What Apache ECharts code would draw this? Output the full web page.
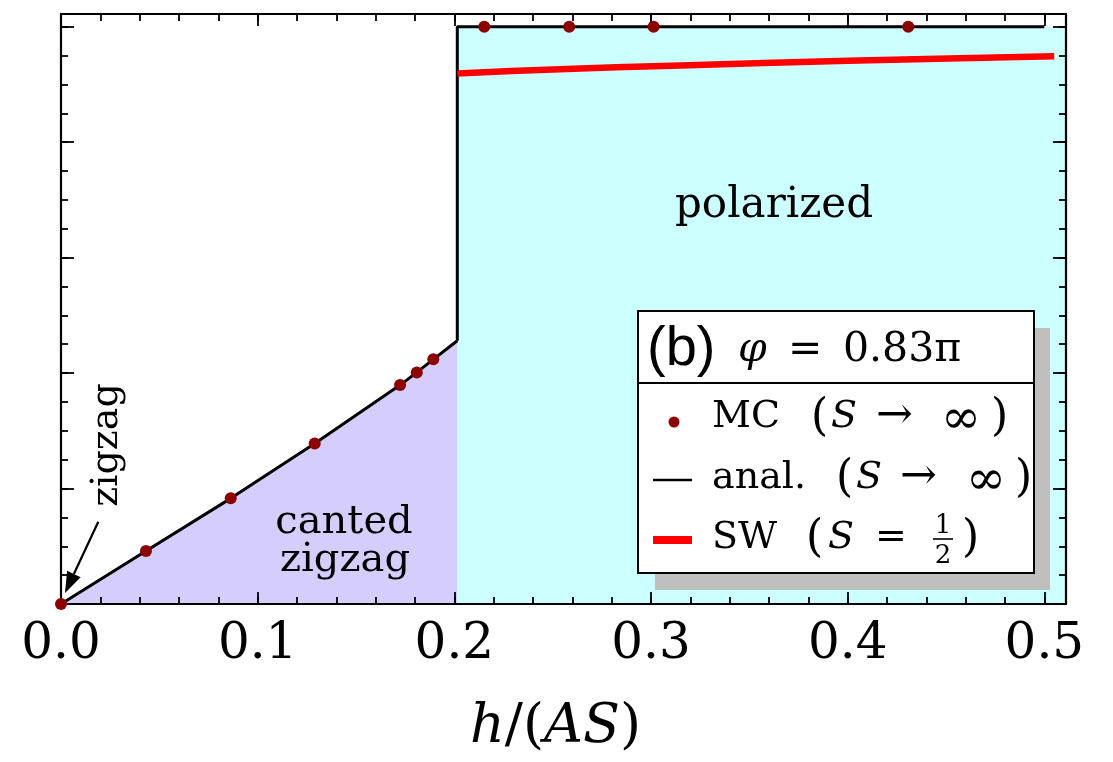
<!DOCTYPE html>
<html>
<head>
<meta charset="utf-8">
<script src="https://cdn.jsdelivr.net/npm/echarts@6/dist/echarts.min.js"></script>
<style>
  html, body { margin: 0; padding: 0; background: #fff; }
  #chart { width: 1113px; height: 762px; }
</style>
</head>
<body>
<div id="chart"></div>
<script>
// axis ranges (y has no labels, one major unit per tick)
const xMax = 0.511;
const yMax = 5.11;
const xLabels = ['0.0', '0.1', '0.2', '0.3', '0.4', '0.5'];

// analytic boundary of the canted zigzag phase
const analH = [0, 0.0432, 0.0863, 0.129, 0.1724, 0.1809, 0.1893, 0.2015];
const analE = [0, 0.459, 0.915, 1.391, 1.896, 2.006, 2.119, 2.28];

// jump to the polarized phase
const edgeH = [0.2015, 0.2015, 0.5];
const edgeE = [2.28, 5.0, 5.0];

// polarized region
const polarH = [0.2015, 0.511];
const polarE = [5.0, 5.0];

// Monte Carlo points
const mcH = [0, 0.0432, 0.0863, 0.129, 0.1724, 0.1809, 0.1893, 0.2152, 0.2584, 0.3013, 0.4308];
const mcE = [0, 0.459, 0.915, 1.391, 1.896, 2.006, 2.119, 5.0, 5.0, 5.0, 5.0];

// spin wave S = 1/2
const swH = [0.2015, 0.25, 0.315, 0.4, 0.505];
const swE = [4.595, 4.63, 4.664, 4.705, 4.745];

const pts = (xs, ys) => xs.map((x, i) => [x, ys[i]]);

const serif = 'DejaVu Serif';
const sans = 'Liberation Sans';

function tx(x, y, text, size, extra) {
  return {
    type: 'text', x: x, y: y, z: 102,
    style: Object.assign({
      text: text, fontSize: size, fontFamily: serif, fill: '#000',
      align: 'left', textAlign: 'left', verticalAlign: 'middle', textVerticalAlign: 'middle'
    }, extra || {})
  };
}
const it = { fontStyle: 'italic' };
const mid = { align: 'center', textAlign: 'center' };

function axisX(pos, major, showLabel) {
  return {
    type: 'value', position: pos, min: 0, max: xMax,
    interval: major ? 0.1 : 0.02, z: 5,
    axisLine: { show: major, onZero: false, lineStyle: { color: '#000', width: 2.2 } },
    axisTick: { show: true, inside: true, length: major ? 12 : 7, lineStyle: { color: '#000', width: 1.8 } },
    splitLine: { show: false },
    axisLabel: {
      show: showLabel, margin: 16, fontSize: 50, fontFamily: serif, color: '#000',
      showMinLabel: false, showMaxLabel: false,
      formatter: function (v) {
        const k = Math.round(v * 10);
        return Math.abs(v * 10 - k) < 1e-6 ? xLabels[k] : '';
      }
    }
  };
}
function axisY(pos, major) {
  return {
    type: 'value', position: pos, min: 0, max: yMax,
    interval: major ? 1 : 0.25, z: 5,
    axisLine: { show: major, onZero: false, lineStyle: { color: '#000', width: 2.2 } },
    axisTick: { show: true, inside: true, length: major ? 13 : 7, lineStyle: { color: '#000', width: 1.8 } },
    splitLine: { show: false },
    axisLabel: { show: false }
  };
}

const xb = axisX('bottom', true, true);
xb.name = '{i|h}{n|/(}{i|AS}{n|)}';
xb.nameLocation = 'middle';
xb.nameGap = 124;
xb.nameTextStyle = {
  verticalAlign: 'middle',
  padding: [0, 16, 0, 0],
  rich: {
    i: { fontSize: 54, fontFamily: serif, fontStyle: 'italic', color: '#000' },
    n: { fontSize: 54, fontFamily: serif, color: '#000' }
  }
};

// arrow pointing at the zigzag point
const aFrom = [98.3, 521.7], aTip = [65, 593];
const dx = aTip[0] - aFrom[0], dy = aTip[1] - aFrom[1];
const dl = Math.sqrt(dx * dx + dy * dy);
const ux = dx / dl, uy = dy / dl;
const hb = [aTip[0] - 21 * ux, aTip[1] - 21 * uy];

const option = {
  animation: false,
  backgroundColor: '#fff',
  grid: { left: 61, top: 14, width: 1005, height: 590, containLabel: false, outerBoundsMode: 'none' },
  xAxis: [xb, axisX('bottom', false, false), axisX('top', true, false), axisX('top', false, false)],
  yAxis: [axisY('left', true), axisY('left', false), axisY('right', true), axisY('right', false)],
  series: [
    {
      type: 'line', data: pts(polarH, polarE), symbol: 'none', z: 1, silent: true,
      lineStyle: { width: 0, opacity: 0 },
      areaStyle: { color: '#ccffff', opacity: 1 }
    },
    {
      name: 'anal.', type: 'line', data: pts(analH, analE), symbol: 'none', z: 3, silent: true,
      lineStyle: { color: '#000', width: 3 },
      areaStyle: { color: '#d5cdfb', opacity: 1 }
    },
    {
      type: 'line', data: pts(edgeH, edgeE), symbol: 'none', z: 3, silent: true,
      lineStyle: { color: '#000', width: 3 }
    },
    {
      name: 'SW', type: 'line', data: pts(swH, swE), symbol: 'none', z: 4, silent: true, smooth: 0.3,
      lineStyle: { color: '#ff0000', width: 6.5, cap: 'butt' }
    },
    {
      name: 'MC', type: 'scatter', data: pts(mcH, mcE), symbolSize: 12, z: 6, clip: false,
      itemStyle: { color: '#8b0000', opacity: 1 }
    }
  ],
  graphic: [
    // first tick label, kept centred under the origin tick
    tx(61, 620, xLabels[0], 50, { align: 'center', textAlign: 'center', verticalAlign: 'top', textVerticalAlign: 'top' }),

    // region labels
    tx(774, 206, 'polarized', 42, mid),
    tx(344, 523, 'canted', 40, mid),
    tx(345, 561, 'zigzag', 40, mid),
    { type: 'text', x: 107, y: 445, rotation: Math.PI / 2, z: 102,
      style: { text: 'zigzag', fontSize: 38, fontFamily: serif, fill: '#000',
        align: 'center', textAlign: 'center', verticalAlign: 'middle', textVerticalAlign: 'middle' } },
    { type: 'line', z: 102, shape: { x1: aFrom[0], y1: aFrom[1], x2: hb[0], y2: hb[1] },
      style: { stroke: '#000', lineWidth: 2.2 } },
    { type: 'polygon', z: 102,
      shape: { points: [aTip, [hb[0] + 7.5 * uy, hb[1] - 7.5 * ux], [hb[0] - 7.5 * uy, hb[1] + 7.5 * ux]] },
      style: { fill: '#000' } },

    // legend box
    { type: 'rect', z: 100, shape: { x: 655, y: 328, width: 395, height: 262 }, style: { fill: '#bfbfbf' } },
    { type: 'rect', z: 101, shape: { x: 638, y: 311, width: 396, height: 262 },
      style: { fill: '#fff', stroke: '#000', lineWidth: 2 } },
    { type: 'line', z: 102, shape: { x1: 638, y1: 383, x2: 1034, y2: 383 }, style: { stroke: '#000', lineWidth: 2 } },
    tx(647, 350, '(b)', 56, { fontFamily: sans }),
    tx(738, 350, 'φ', 41, it),
    tx(788, 350, '=', 41),
    tx(843, 350, '0.83π', 41),

    { type: 'circle', z: 102, shape: { cx: 674, cy: 422, r: 5.5 }, style: { fill: '#8b0000' } },
    tx(712, 417, 'MC', 38),
    tx(811, 419, '(', 44),
    tx(831, 417, 'S', 38, it),
    tx(876, 417, '→', 44),
    tx(941, 421, '∞', 48),
    tx(991, 419, ')', 44),

    { type: 'line', z: 102, shape: { x1: 653, y1: 480, x2: 692, y2: 480 }, style: { stroke: '#000', lineWidth: 2.5 } },
    tx(712, 478, 'anal.', 38),
    tx(836, 480, '(', 44),
    tx(856, 478, 'S', 38, it),
    tx(900, 478, '→', 44),
    tx(966, 482, '∞', 48),
    tx(1015, 480, ')', 44),

    { type: 'line', z: 102, shape: { x1: 653, y1: 540, x2: 692, y2: 540 }, style: { stroke: '#ff0000', lineWidth: 8 } },
    tx(712, 538, 'SW', 38),
    tx(806, 540, '(', 44),
    tx(828, 538, 'S', 38, it),
    tx(875, 538, '=', 38),
    tx(943, 526, '1', 26, mid),
    { type: 'line', z: 102, shape: { x1: 933, y1: 539, x2: 953, y2: 539 }, style: { stroke: '#000', lineWidth: 1.6 } },
    tx(943, 556, '2', 26, mid),
    tx(962, 540, ')', 44)
  ]
};

const chart = echarts.init(document.getElementById('chart'), null, { renderer: 'canvas' });
chart.setOption(option);
</script>
</body>
</html>
